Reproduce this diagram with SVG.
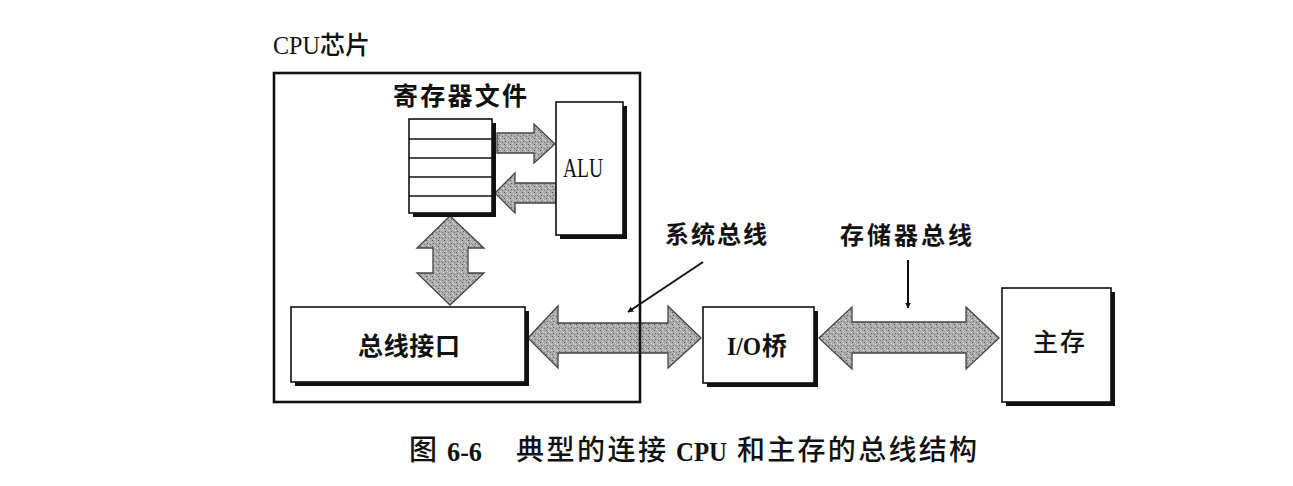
<svg xmlns="http://www.w3.org/2000/svg" width="1293" height="486" viewBox="0 0 1293 486">
<style>
.box{fill:#fff;stroke:#111;stroke-width:1.6}
.shadow{fill:#111}
.bus{fill:url(#dither);stroke:#444;stroke-width:1.3;stroke-linejoin:miter}
.ptr{stroke:#111;stroke-width:2;fill:none}
.cjk{font-family:"Noto Sans CJK SC",sans-serif;font-weight:bold;fill:#111}
.ser{font-family:"Liberation Serif",serif;fill:#111}
.cap{font-family:"Noto Sans CJK SC",sans-serif;font-weight:500;fill:#111}
</style>
<defs>
<pattern id="dither" width="6" height="6" patternUnits="userSpaceOnUse">
<rect width="6" height="6" fill="#ababab"/>
<rect x="0" y="0" width="1" height="1" fill="#555"/>
<rect x="3" y="1" width="1" height="1" fill="#d8d8d8"/>
<rect x="1" y="3" width="1" height="1" fill="#666"/>
<rect x="4" y="4" width="1" height="1" fill="#777"/>
<rect x="5" y="2" width="1" height="1" fill="#e0e0e0"/>
<rect x="2" y="5" width="1" height="1" fill="#dcdcdc"/>
</pattern>
<marker id="ah" viewBox="0 0 10 10" refX="9" refY="5" markerWidth="6" markerHeight="6" orient="auto" markerUnits="userSpaceOnUse">
<path d="M0,0 L10,5 L0,10 z" fill="#111"/>
</marker>
</defs>
<rect width="1293" height="486" fill="#fff"/>

<g id="connectors">
<polygon class="bus" points="497,133 534,133 534,124 555,144 534,163 534,153 497,153"/>
<polygon class="bus" points="556,183 515,183 515,173 495,193 515,213 515,203 556,203"/>
<polygon class="bus" points="450,216 484,248 468,248 468,273 484,273 450,305 417,273 433,273 433,248 417,248"/>
<polygon class="bus" points="528,338 558,306 558,323 668,323 668,306 701,338 668,368 668,353 558,353 558,368"/>
<polygon class="bus" points="819,338 852,307 852,322 966,322 966,307 999,338 966,369 966,353 852,353 852,369"/>
<line class="ptr" x1="703" y1="262" x2="628" y2="312" marker-end="url(#ah)"/>
<line class="ptr" x1="908" y1="260" x2="908" y2="308" marker-end="url(#ah)"/>
</g>

<g id="cpu-chip">
<text x="273" y="54" class="ser" font-size="25" textLength="47" lengthAdjust="spacingAndGlyphs">CPU</text>
<text x="320" y="54" class="cjk" font-size="25" style="font-weight:500">芯片</text>
<rect x="274" y="73" width="366" height="329" fill="none" stroke="#111" stroke-width="2.6"/>
</g>

<g id="register-file">
<text x="393" y="105" class="cjk" font-size="25" textLength="134">寄存器文件</text>
<rect class="shadow" x="413" y="123" width="83" height="94"/>
<rect class="box" x="409" y="119" width="83" height="94"/>
<line x1="409" y1="139" x2="492" y2="139" stroke="#111" stroke-width="1.6"/>
<line x1="409" y1="158" x2="492" y2="158" stroke="#111" stroke-width="1.6"/>
<line x1="409" y1="177" x2="492" y2="177" stroke="#111" stroke-width="1.6"/>
<line x1="409" y1="196" x2="492" y2="196" stroke="#111" stroke-width="1.6"/>
</g>

<g id="alu">
<rect class="shadow" x="560" y="106" width="67" height="133"/>
<rect class="box" x="556" y="102" width="67" height="133"/>
<text x="563" y="177" class="ser" font-size="27" textLength="40" lengthAdjust="spacingAndGlyphs">ALU</text>
</g>

<g id="bus-interface">
<rect class="shadow" x="295" y="311" width="234" height="75"/>
<rect class="box" x="291" y="307" width="234" height="75"/>
<text x="358" y="355" class="cjk" font-size="25" textLength="102">总线接口</text>
</g>

<g id="io-bridge">
<rect class="shadow" x="707" y="311" width="111" height="76"/>
<rect class="box" x="703" y="307" width="111" height="76"/>
<text x="727" y="355" class="ser" font-size="25" font-weight="bold" textLength="34" lengthAdjust="spacingAndGlyphs">I/O</text>
<text x="762" y="355" class="cjk" font-size="25">桥</text>
</g>

<g id="main-memory">
<rect class="shadow" x="1006" y="292" width="109" height="114"/>
<rect class="box" x="1002" y="288" width="109" height="114"/>
<text x="1033" y="351" class="cjk" font-size="25" textLength="52" style="font-weight:500">主存</text>
</g>

<g id="labels">
<text x="665" y="243" class="cjk" font-size="24" textLength="102">系统总线</text>
<text x="840" y="244" class="cjk" font-size="24" textLength="132">存储器总线</text>
</g>

<g id="caption">
<text x="409" y="460" class="cap" font-size="28">图</text>
<text x="447" y="461" class="ser" font-size="28" font-weight="bold" textLength="35" lengthAdjust="spacingAndGlyphs">6-6</text>
<text x="516" y="460" class="cap" font-size="28" textLength="150">典型的连接</text>
<text x="676" y="461" class="ser" font-size="27" font-weight="bold" textLength="51" lengthAdjust="spacingAndGlyphs">CPU</text>
<text x="737" y="460" class="cap" font-size="28" textLength="240">和主存的总线结构</text>
</g>
</svg>
